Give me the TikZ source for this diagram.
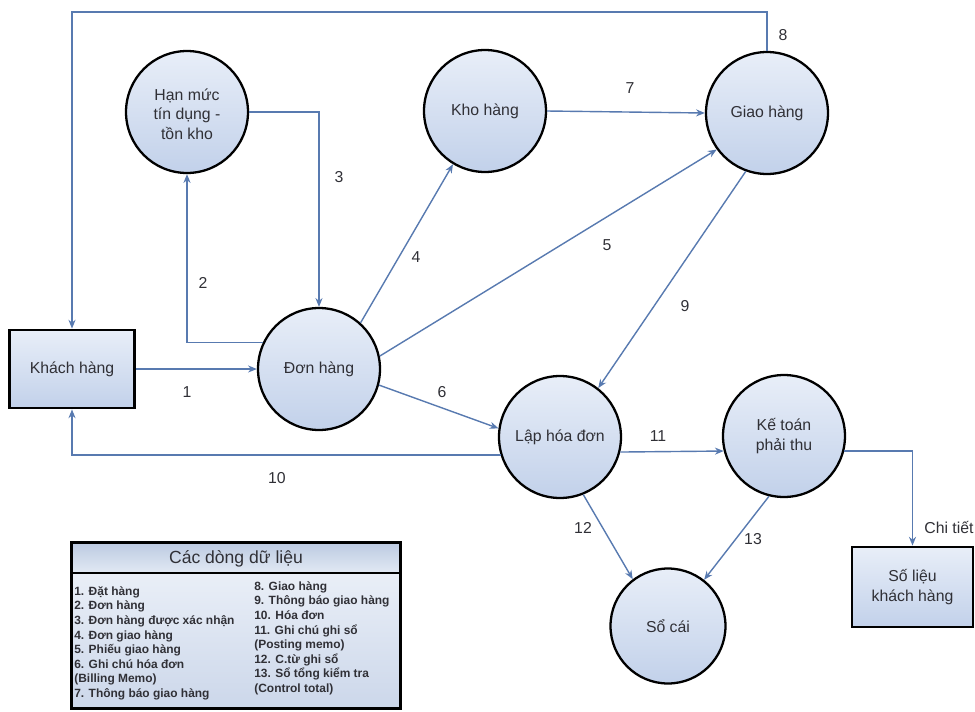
\documentclass[tikz,border=0pt]{standalone}
\usepackage{fontspec}
\setmainfont{Liberation Sans}
\usetikzlibrary{arrows.meta}

\definecolor{flowblue}{RGB}{88,122,176}
\definecolor{bubble}{RGB}{194,209,234}
\definecolor{bubbletop}{RGB}{232,238,248}
\definecolor{txtgray}{RGB}{48,48,54}

\tikzset{
  proc/.style={circle, draw=black, line width=1.3pt, minimum size=2.44cm, inner sep=0pt,
    top color=bubbletop, bottom color=bubble, align=center, text=txtgray,
    font=\fontsize{9}{11}\selectfont},
  extent/.style={rectangle, draw=black, line width=1.6pt, inner sep=0pt,
    top color=bubbletop, bottom color=bubble, align=center, text=txtgray,
    font=\fontsize{9}{11}\selectfont},
  flow/.style={draw=flowblue, line width=0.8pt, -{Stealth[length=5pt,width=4pt]}},
  num/.style={text=txtgray, font=\fontsize{9}{11}\selectfont},
  legitem/.style={anchor=north west, align=left, inner sep=0pt, text=txtgray,
    font=\fontsize{6.8}{8.33}\selectfont\bfseries}
}

\begin{document}
\begin{tikzpicture}[x=0.02cm, y=-0.02cm]
        \useasboundingbox (0,0) rectangle (975,711);
        \node[extent, minimum width=2.5cm, minimum height=1.56cm] (kh) at (72,369) {Khách hàng};
        \node[proc] (hm) at (187,112) {\\[-2pt]Hạn mức\\tín dụng -\\tồn kho};
        \node[proc] (kho) at (485,111) {Kho hàng};
        \node[proc] (gh) at (767,113) {Giao hàng};
        \node[proc] (dh) at (319,369) {Đơn hàng};
        \node[proc] (lhd) at (560,437) {Lập hóa đơn};
        \node[proc] (ktpt) at (784,436) {Kế toán\\phải thu};
        \node[proc, minimum size=2.3cm] (soc) at (668,626) {Sổ cái};
        \node[extent, minimum width=2.42cm, minimum height=1.6cm] (sl) at (912.5,587) {Số liệu\\khách hàng};
        \coordinate (topy) at (0,12);

        \draw[flow] (kh.east) -- (dh.west);
        \draw[flow] (dh.155) -| (hm.south);
        \draw[flow] (hm.east) -| (dh.north);
        \draw[flow] (dh.48) -- (kho.239);
        \draw[flow] (dh.12) -- (gh.216);
        \draw[flow] (dh.-15) -- (lhd.172);
        \draw[flow] (kho.east) -- (gh.west);
        \draw[flow] (gh.north) -- (gh.north |- topy) -| (kh.north);
        \draw[flow] (gh.250) -- (lhd.52);
        \draw[flow] (lhd.197) -| (kh.south);
        \draw[flow] (lhd.-14) -- (ktpt.194);
        \draw[flow] (lhd.-68) -- (soc.127);
        \draw[flow] (ktpt.256) -- (soc.52);
        \draw[flow] (ktpt.-14) -| (sl.north);

        \node[num] (n1) at (187,392) {1};
        \node[num] (n2) at (203,283) {2};
        \node[num] (n3) at (339,177) {3};
        \node[num] (n4) at (416,257) {4};
        \node[num] (n5) at (607,245) {5};
        \node[num] (n6) at (442,392) {6};
        \node[num] (n7) at (630,88) {7};
        \node[num] (n8) at (783,35) {8};
        \node[num] (n9) at (685,306) {9};
        \node[num] (n10) at (277,478) {10};
        \node[num] (n11) at (658,436) {11};
        \node[num] (n12) at (583,528) {12};
        \node[num] (n13) at (753,539) {13};
        \node[num, anchor=west, inner sep=0pt] (ct) at (924,527) {Chi tiết};

        % legend
        \node[rectangle, minimum width=6.56cm, minimum height=3.3cm, inner sep=0pt,
          top color={rgb,255:red,240;green,244;blue,250}, bottom color={rgb,255:red,204;green,215;blue,234}] (legend) at (236,625.5) {};
        \coordinate (hdr) at (0,573);
        \shade[top color={rgb,255:red,188;green,202;blue,225}, bottom color={rgb,255:red,226;green,233;blue,244}]
          (legend.north west) rectangle (legend.east |- hdr);
        \draw[line width=0.9pt] (legend.west |- hdr) -- (legend.east |- hdr);
        \draw[line width=1.6pt] (legend.north west) rectangle (legend.south east);
        \node[text=txtgray, font=\fontsize{10}{12}\selectfont] (legtitle) at (236,559) {Các dòng dữ liệu};
        \node[legitem] (col1) at (74,586) {1. Đặt hàng\\2. Đơn hàng\\3. Đơn hàng được xác nhận\\4. Đơn giao hàng\\5. Phiếu giao hàng\\6. Ghi chú hóa đơn\\(Billing Memo)\\7. Thông báo giao hàng};
        \node[legitem] (col2) at (254,581) {8. Giao hàng\\9. Thông báo giao hàng\\10. Hóa đơn\\11. Ghi chú ghi sổ\\(Posting memo)\\12. C.từ ghi sổ\\13. Sổ tổng kiểm tra\\(Control total)};
\end{tikzpicture}
\end{document}
